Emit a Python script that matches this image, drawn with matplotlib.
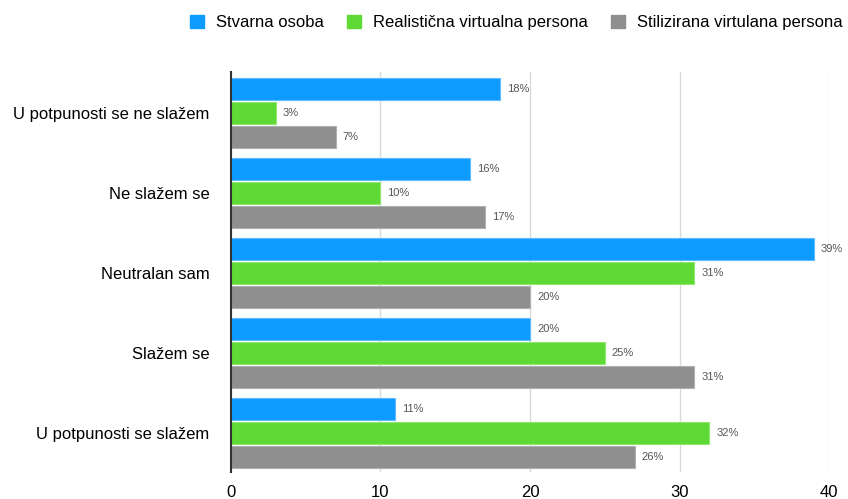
import matplotlib.pyplot as plt
from matplotlib.patches import Patch
import numpy as np

plt.rcParams["font.family"] = ["Liberation Sans", "DejaVu Sans"]

categories = [
    "U potpunosti se ne slažem",
    "Ne slažem se",
    "Neutralan sam",
    "Slažem se",
    "U potpunosti se slažem",
]
series_names = ["Stvarna osoba", "Realistična virtualna persona", "Stilizirana virtulana persona"]
stvarna = [18, 16, 39, 20, 11]
realisticna = [3, 10, 31, 25, 32]
stilizirana = [7, 17, 20, 31, 27]
stvarna_lbl = ["18%", "16%", "39%", "20%", "11%"]
realisticna_lbl = ["3%", "10%", "31%", "25%", "32%"]
stilizirana_lbl = ["7%", "17%", "20%", "31%", "26%"]
xticks = [0, 10, 20, 30, 40]

colors = ["#0e9bff", "#5ed936", "#8f8f8f"]
edge = ["#5cbcff", "#8fe870", "#b0b0b0"]

fig = plt.figure(figsize=(8.48, 4.99), dpi=100)
ax = fig.add_axes([0.2724, 0.0541, 0.7052, 0.8016])

y = np.arange(len(categories))
offsets = [-0.306, 0.0, 0.306]
bar_h = 0.275
all_vals = [stvarna, realisticna, stilizirana]
all_lbls = [stvarna_lbl, realisticna_lbl, stilizirana_lbl]

for k in range(3):
    bars = ax.barh(y + offsets[k], all_vals[k], height=bar_h, color=colors[k],
                   edgecolor=edge[k], linewidth=0.8, zorder=3)
    for b, lbl in zip(bars, all_lbls[k]):
        ax.annotate(lbl, (b.get_width(), b.get_y() + b.get_height() / 2),
                    xytext=(5, 0), textcoords="offset points",
                    ha="left", va="center", fontsize=8, color="#555555")

ax.set_xlim(0, 40)
ax.set_ylim(4.4875, -0.5125)
ax.set_xticks(xticks)
ax.set_xticklabels([str(t) for t in xticks], fontsize=12)
ax.set_yticks(y)
ax.set_yticklabels(categories, fontsize=12)
ax.tick_params(axis="both", length=0)
ax.tick_params(axis="y", pad=15.5)
ax.tick_params(axis="x", pad=9)
ax.grid(axis="x", color="#d9d9d9", linewidth=1, zorder=0)
for s in ["top", "right", "bottom"]:
    ax.spines[s].set_visible(False)
ax.spines["left"].set_color("#333333")
ax.spines["left"].set_linewidth(1.5)
ax.spines["left"].set_zorder(4)

handles = [Patch(facecolor=c, edgecolor=c) for c in colors]
fig.legend(handles, series_names, loc="upper right", bbox_to_anchor=(1.011, 1.0),
           ncol=3, frameon=False, fontsize=12, handlelength=0.85, handleheight=0.85,
           columnspacing=1.4, handletextpad=0.7)

fig.savefig("out.png", dpi=100)
